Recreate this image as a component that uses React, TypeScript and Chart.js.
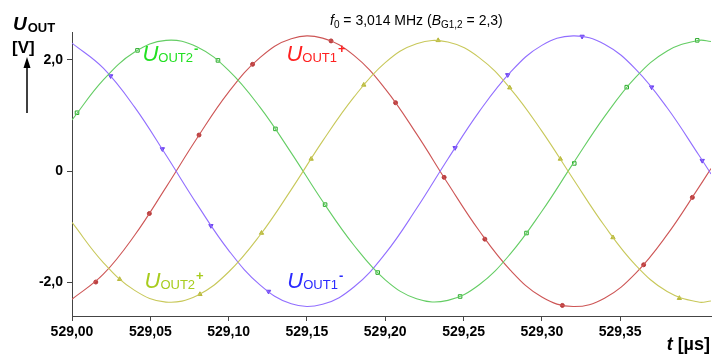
import { useEffect, useRef } from 'react';
import { Chart, registerables } from 'chart.js';

Chart.register(...registerables);

// time axis samples [µs]
const tValues = [529.0, 529.02, 529.04, 529.06, 529.08, 529.1, 529.12, 529.14, 529.16, 529.18, 529.2, 529.22, 529.24, 529.26, 529.28, 529.3, 529.32, 529.34, 529.36, 529.38, 529.4, 529.408];
const uOut1Plus = [-2.3, -1.85, -1.15, -0.29, 0.6, 1.42, 2.04, 2.38, 2.39, 2.08, 1.48, 0.67, -0.22, -1.07, -1.78, -2.26, -2.43, -2.28, -1.83, -1.14, -0.3, 0.05];
const uOut1Minus = [2.3, 1.85, 1.15, 0.29, -0.6, -1.42, -2.04, -2.38, -2.39, -2.08, -1.48, -0.67, 0.22, 1.07, 1.78, 2.26, 2.43, 2.28, 1.83, 1.14, 0.3, -0.05];
const uOut2Minus = [0.92, 1.64, 2.14, 2.35, 2.23, 1.81, 1.15, 0.33, -0.54, -1.33, -1.95, -2.29, -2.32, -2.04, -1.48, -0.72, 0.14, 0.98, 1.69, 2.16, 2.35, 2.33];
const uOut2Plus = [-0.92, -1.64, -2.14, -2.35, -2.23, -1.81, -1.15, -0.33, 0.54, 1.33, 1.95, 2.29, 2.32, 2.04, 1.48, 0.72, -0.14, -0.98, -1.69, -2.16, -2.35, -2.33];

// marker samples
const mkT1Plus = [529.0152, 529.0494, 529.0811, 529.1153, 529.1654, 529.2066, 529.2376, 529.2636, 529.3131, 529.365, 529.3961];
const mkV1Plus = [-1.99, -0.76, 0.65, 1.92, 2.34, 1.23, -0.11, -1.22, -2.41, -1.68, -0.47];
const mkT1Minus = [529.0247, 529.0577, 529.0887, 529.1255, 529.2446, 529.2782, 529.3257, 529.3701, 529.4024];
const mkV1Minus = [1.71, 0.4, -0.98, -2.16, 0.42, 1.73, 2.42, 1.51, 0.19];
const mkT2Minus = [529.0032, 529.0418, 529.0932, 529.1299, 529.1616, 529.1952, 529.2478, 529.2902, 529.3207, 529.3542, 529.3992];
const mkV2Minus = [1.05, 2.17, 1.99, 0.76, -0.6, -1.82, -2.25, -1.11, 0.14, 1.51, 2.35];
const mkT2Plus = [529.0304, 529.0817, 529.121, 529.1527, 529.1863, 529.2338, 529.2795, 529.3118, 529.3454, 529.3878];
const mkV2Plus = [-1.94, -2.21, -1.11, 0.22, 1.55, 2.35, 1.5, 0.22, -1.19, -2.28];

const xTicks = [529.0, 529.05, 529.1, 529.15, 529.2, 529.25, 529.3, 529.35];
const yTicks = [-2, 0, 2];

const FAM = '"Liberation Sans", Arial, sans-serif';

type Part = { text: string; font: string; color: string; dy?: number; gap?: number };

function drawRich(ctx: CanvasRenderingContext2D, x: number, y: number, parts: Part[]) {
  let cx = x;
  for (const p of parts) {
    ctx.font = p.font;
    ctx.fillStyle = p.color;
    ctx.fillText(p.text, cx, y + (p.dy || 0));
    cx += ctx.measureText(p.text).width + (p.gap || 0);
  }
  return cx;
}

const seriesLabels = [
  { t: 529.045, v: 1.98, sub: 'OUT2', sup: '-', color: '#22e022' },
  { t: 529.1369, v: 1.98, sub: 'OUT1', sup: '+', color: '#ff2020' },
  { t: 529.0463, v: -2.1, sub: 'OUT2', sup: '+', color: '#a8cc1e' },
  { t: 529.1375, v: -2.1, sub: 'OUT1', sup: '-', color: '#2a2aff' },
];

const textPlugin = {
  id: 'texts',
  afterDraw(chart: any) {
    const ctx: CanvasRenderingContext2D = chart.ctx;
    const xs = chart.scales.x;
    const ys = chart.scales.y;
    ctx.save();
    ctx.textBaseline = 'alphabetic';
    ctx.textAlign = 'left';
    // series labels
    for (const l of seriesLabels) {
      const px = xs.getPixelForValue(l.t);
      const py = ys.getPixelForValue(l.v);
      drawRich(ctx, px, py, [
        { text: 'U', font: `italic 22px ${FAM}`, color: l.color, gap: 0 },
        { text: l.sub, font: `13px ${FAM}`, color: l.color, dy: 1, gap: 1 },
        { text: l.sup, font: `bold 13px ${FAM}`, color: l.color, dy: -8 },
      ]);
    }
    // title
    drawRich(ctx, 330, 25, [
      { text: 'f', font: `italic 14px ${FAM}`, color: '#000' },
      { text: '0', font: `10px ${FAM}`, color: '#000', dy: 3 },
      { text: ' = 3,014 MHz (', font: `14px ${FAM}`, color: '#000' },
      { text: 'B', font: `italic 14px ${FAM}`, color: '#000' },
      { text: 'G1,2', font: `10px ${FAM}`, color: '#000', dy: 3 },
      { text: ' = 2,3)', font: `14px ${FAM}`, color: '#000' },
    ]);
    // y axis label
    drawRich(ctx, 13, 30, [
      { text: 'U', font: `italic bold 19px ${FAM}`, color: '#000', gap: 1 },
      { text: 'OUT', font: `bold 13px ${FAM}`, color: '#000', dy: 2 },
    ]);
    drawRich(ctx, 12, 53, [{ text: '[V]', font: `bold 17px ${FAM}`, color: '#000' }]);
    ctx.strokeStyle = '#000';
    ctx.lineWidth = 1.5;
    ctx.beginPath();
    ctx.moveTo(27, 113);
    ctx.lineTo(27, 64);
    ctx.stroke();
    ctx.fillStyle = '#000';
    ctx.beginPath();
    ctx.moveTo(27, 57);
    ctx.lineTo(23.5, 68);
    ctx.lineTo(30.5, 68);
    ctx.closePath();
    ctx.fill();
    // x axis label
    ctx.font = `italic bold 18px ${FAM}`;
    const wT = ctx.measureText('t').width;
    ctx.font = `bold 18px ${FAM}`;
    const wR = ctx.measureText(' [µs]').width;
    drawRich(ctx, 710 - wT - wR, 350, [
      { text: 't', font: `italic bold 18px ${FAM}`, color: '#000' },
      { text: ' [µs]', font: `bold 18px ${FAM}`, color: '#000' },
    ]);
    ctx.restore();
  },
};

function lineSet(arr: number[], color: string) {
  return {
    data: tValues.map((t, i) => ({ x: t, y: arr[i] })),
    borderColor: color,
    borderWidth: 1.1,
    pointRadius: 0,
    tension: 0.4,
    fill: false,
  };
}

function markSet(ts: number[], vs: number[], color: string, style: string, rot: number, radius: number, bg: string) {
  return {
    data: ts.map((t, i) => ({ x: t, y: vs[i] })),
    showLine: false,
    borderColor: color,
    backgroundColor: bg,
    pointStyle: style,
    pointRotation: rot,
    pointRadius: radius,
    borderWidth: 1,
  };
}

export default function App() {
  const ref = useRef<HTMLCanvasElement | null>(null);
  useEffect(() => {
    if (!ref.current) return;
    const tickFont = { family: FAM, size: 14, weight: 'bold' as const };
    const chart = new Chart(ref.current, {
      type: 'line',
      data: {
        datasets: [
          lineSet(uOut2Plus, 'rgb(200,200,90)'),
          lineSet(uOut2Minus, 'rgb(100,205,100)'),
          lineSet(uOut1Minus, 'rgb(145,110,255)'),
          lineSet(uOut1Plus, 'rgb(205,85,85)'),
          markSet(mkT2Plus, mkV2Plus, 'rgb(185,185,60)', 'triangle', 0, 2.5, 'rgb(185,185,60)'),
          markSet(mkT2Minus, mkV2Minus, 'rgb(40,170,40)', 'rect', 0, 2.5, 'rgba(0,0,0,0)'),
          markSet(mkT1Minus, mkV1Minus, 'rgb(110,70,240)', 'triangle', 180, 2.5, 'rgb(110,70,240)'),
          markSet(mkT1Plus, mkV1Plus, 'rgb(185,60,60)', 'circle', 0, 2, 'rgb(185,60,60)'),
        ] as any,
      },
      options: {
        animation: false,
        responsive: false,
        devicePixelRatio: 1,
        layout: { padding: { top: 32, left: 0, right: 0, bottom: 0 } },
        plugins: { legend: { display: false }, tooltip: { enabled: false }, title: { display: false } },
        scales: {
          x: {
            type: 'linear',
            min: 529.0,
            max: 529.408,
            afterBuildTicks: (s: any) => {
              s.ticks = xTicks.map((v) => ({ value: v }));
            },
            afterFit: (s: any) => {
              s.height = 42;
            },
            ticks: {
              callback: (v: any) => Number(v).toFixed(2).replace('.', ','),
              font: tickFont,
              color: '#000',
              padding: 3,
              maxRotation: 0,
              autoSkip: false,
            },
            grid: { drawOnChartArea: false, drawTicks: true, tickLength: 5, color: '#444' },
            border: { display: true, color: '#444', width: 1 },
          },
          y: {
            type: 'linear',
            min: -2.6,
            max: 2.5,
            afterBuildTicks: (s: any) => {
              s.ticks = yTicks.map((v) => ({ value: v }));
            },
            afterFit: (s: any) => {
              s.width = 72;
            },
            ticks: {
              callback: (v: any) => (Number(v) === 0 ? '0' : Number(v).toFixed(1).replace('.', ',')),
              font: tickFont,
              color: '#000',
              padding: 4,
            },
            grid: { drawOnChartArea: false, drawTicks: true, tickLength: 5, color: '#444' },
            border: { display: true, color: '#444', width: 1 },
          },
        },
      } as any,
      plugins: [textPlugin],
    });
    return () => chart.destroy();
  }, []);
  return (
    <div style={{ position: 'fixed', left: 0, top: 0, width: 716, height: 358, background: '#fff' }}>
      <canvas ref={ref} width={716} height={358} />
    </div>
  );
}
